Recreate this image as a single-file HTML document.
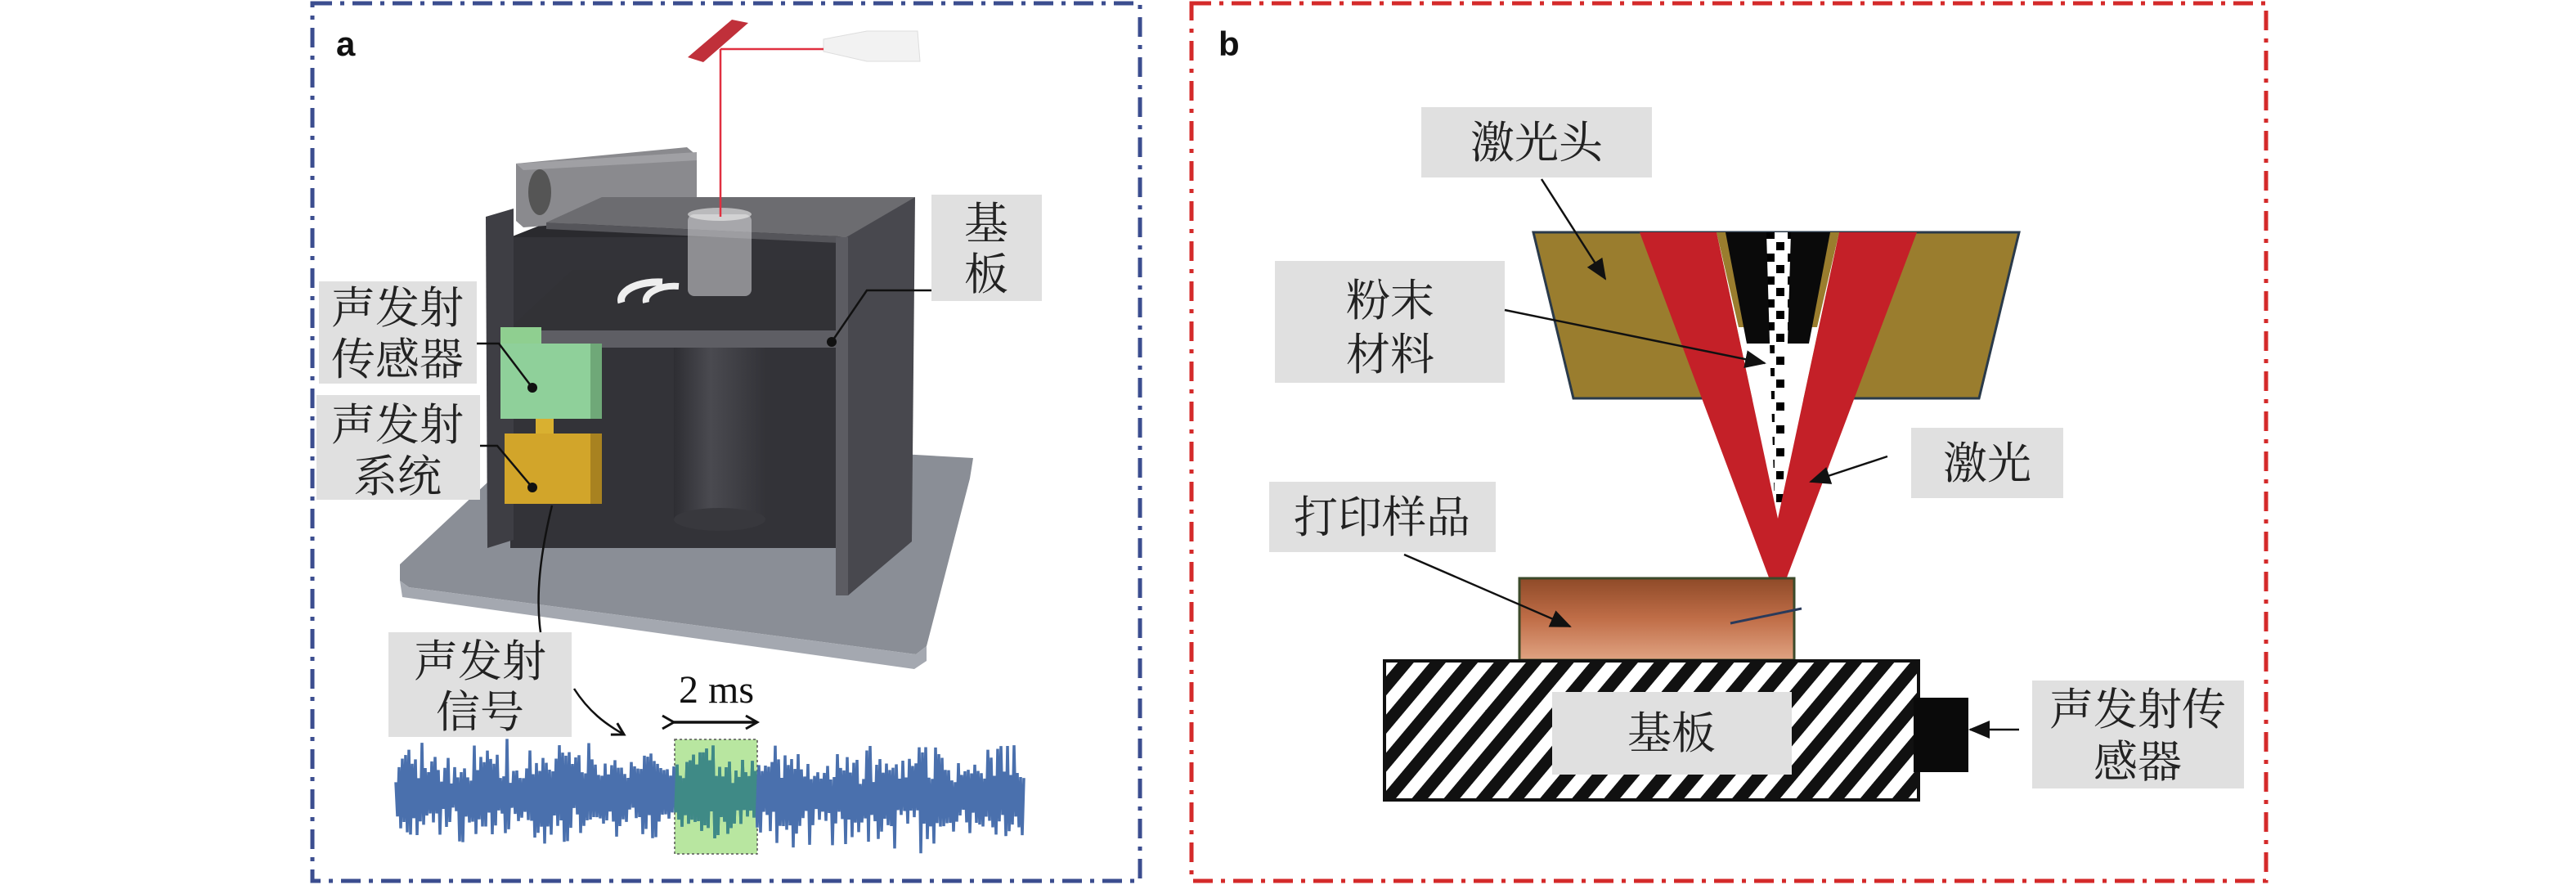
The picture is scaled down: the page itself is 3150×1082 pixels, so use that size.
<!DOCTYPE html>
<html><head><meta charset="utf-8"><style>
html,body{margin:0;padding:0;background:#fff;}
svg{display:block;}
.lb{font-family:"Liberation Serif","Noto Serif CJK SC",serif;font-size:54px;fill:#222;text-anchor:middle;}
</style></head><body>
<svg id="s" width="3150" height="1082" viewBox="0 0 3150 1082" xmlns="http://www.w3.org/2000/svg">
<defs>
<pattern id="hatch" width="30" height="30" patternUnits="userSpaceOnUse" patternTransform="rotate(40)">
<rect width="30" height="30" fill="#fff"/><rect width="15" height="30" fill="#111"/></pattern>
<linearGradient id="samp" x1="0" y1="0" x2="0" y2="1"><stop offset="0" stop-color="#8e4a28"/><stop offset="0.5" stop-color="#c06e48"/><stop offset="1" stop-color="#e0a382"/></linearGradient>
<linearGradient id="cyl" x1="0" y1="0" x2="1" y2="0"><stop offset="0" stop-color="#2e2e33"/><stop offset="0.4" stop-color="#4a4a50"/><stop offset="1" stop-color="#333338"/></linearGradient>
<pattern id="powder" width="26" height="28" patternUnits="userSpaceOnUse"><rect width="26" height="28" fill="#fff"/><rect x="2" y="2" width="10" height="10" fill="#000"/><rect x="14" y="16" width="10" height="10" fill="#000"/></pattern>
<marker id="ahb" markerWidth="26" markerHeight="26" refX="24" refY="13" orient="auto" markerUnits="userSpaceOnUse" viewBox="0 0 26 26"><path d="M0,2 L26,13 L0,24 z" fill="#111"/></marker>
<marker id="ao" markerWidth="20" markerHeight="20" refX="16" refY="10" orient="auto" markerUnits="userSpaceOnUse"><path d="M2,2 L16,10 L2,18" fill="none" stroke="#111" stroke-width="3"/></marker>
</defs>

<rect x="382" y="4" width="1012" height="1073" fill="none" stroke="#3b4d8f" stroke-width="5" stroke-dasharray="24 10 5 10"/>
<rect x="1457" y="4" width="1314" height="1073" fill="none" stroke="#d42a2a" stroke-width="5" stroke-dasharray="24 10 5 10"/>

<text x="411" y="68" font-family="Liberation Sans,sans-serif" font-weight="bold" font-size="42" fill="#111">a</text>
<text x="1490" y="68" font-family="Liberation Sans,sans-serif" font-weight="bold" font-size="42" fill="#111">b</text>

<!-- Panel a machine -->
<polygon points="489,690 660,530 1190,560 1186,585 1133,790 1120,800 500,718 489,710" fill="#8a8e96"/>
<polygon points="489,710 500,718 1120,800 1133,790 1133,808 1118,818 492,730" fill="#a4a8b0"/>
<rect x="624" y="290" width="400" height="380" fill="#333338"/>
<polygon points="624,290 700,260 1047,260 1024,290" fill="#2a2a2e"/>
<polygon points="610,414 700,330 1030,330 1024,414" fill="#323236"/>
<polygon points="610,404 1024,404 1024,425 610,425" fill="#5e5e64"/>
<rect x="824" y="425" width="112" height="210" fill="url(#cyl)"/>
<ellipse cx="880" cy="635" rx="56" ry="14" fill="#38383d"/>
<polygon points="594,265 628,255 628,660 596,670" fill="#3e3e44"/>
<polygon points="631,200 840,180 852,190 852,262 640,278 631,270" fill="#8a8a8e"/>
<polygon points="631,200 852,186 852,196 640,208" fill="#a0a0a4"/>
<ellipse cx="660" cy="235" rx="14" ry="28" fill="#555"/>
<polygon points="668,272 736,241 1119,241 1047,290" fill="#6c6c70"/>
<polygon points="668,272 1047,290 1047,298 668,280" fill="#55555a"/>
<polygon points="1035,290 1119,241 1115,662 1037,728" fill="#48484e"/>
<polygon points="1022,290 1037,290 1037,728 1022,728" fill="#5c5c62"/>
<rect x="841" y="262" width="78" height="100" rx="8" fill="#d8d8dc" opacity="0.55"/>
<ellipse cx="880" cy="262" rx="39" ry="8" fill="#eee" opacity="0.6"/>
<path d="M760,370 A45,22 0 0 1 810,345" stroke="#eee" stroke-width="9" fill="none"/>
<path d="M790,370 A35,18 0 0 1 830,350" stroke="#eee" stroke-width="8" fill="none"/>
<polygon points="841,70 895,24 915,28 860,76" fill="#c0303a"/>
<polygon points="1007,48 1060,38 1122,38 1125,75 1060,75 1007,63" fill="#f2f2f2" stroke="#ddd"/>
<line x1="881" y1="60" x2="1007" y2="60" stroke="#e03040" stroke-width="2.5"/>
<line x1="881" y1="60" x2="881" y2="265" stroke="#e03040" stroke-width="2.5"/>
<rect x="612" y="400" width="50" height="20" fill="#8fcf90"/>
<rect x="612" y="420" width="110" height="92" fill="#8fd09a"/>
<rect x="722" y="420" width="14" height="92" fill="#6fa878"/>
<rect x="655" y="512" width="22" height="20" fill="#d9b030"/>
<rect x="617" y="530" width="105" height="86" fill="#d2a52a"/>
<rect x="722" y="530" width="14" height="86" fill="#a88220"/>
<rect x="1139" y="238" width="135" height="130" fill="#e0e0e0"/>
<text class="lb" x="1206" y="292">基</text><text class="lb" x="1206" y="354">板</text>
<rect x="390" y="344" width="193" height="125" fill="#e0e0e0"/>
<text class="lb" x="486" y="395">声发射</text><text class="lb" x="486" y="458">传感器</text>
<rect x="387" y="483" width="200" height="128" fill="#e0e0e0"/>
<text class="lb" x="486" y="538">声发射</text><text class="lb" x="486" y="601">系统</text>
<rect x="475" y="773" width="224" height="128" fill="#e0e0e0"/>
<text class="lb" x="587" y="827">声发射</text><text class="lb" x="587" y="889">信号</text>
<g stroke="#111" stroke-width="2.5" fill="none">
<polyline points="1139,355 1060,355 1017,418"/>
<polyline points="583,420 610,420 651,474"/>
<polyline points="587,545 608,545 651,596"/>
<path d="M675,618 C660,680 655,730 661,773"/>
<path d="M702,842 C720,870 740,885 763,898" marker-end="url(#ao)"/>
</g>
<circle cx="1017" cy="418" r="6" fill="#111"/><circle cx="651" cy="474" r="6" fill="#111"/><circle cx="651" cy="596" r="6" fill="#111"/>
<rect x="825" y="904" width="101" height="140" fill="#b8e6a0" stroke="#555" stroke-dasharray="3 3" stroke-width="1.5"/>
<path id="wave" d="" fill="none" stroke="#4a70ad" stroke-width="3.5"/>
<path id="wave2" d="" fill="none" stroke="#3f8a86" stroke-width="3.5"/>
<text x="876" y="859" text-anchor="middle" font-family="Liberation Serif,serif" font-size="48" fill="#111">2 ms</text>
<line x1="824" y1="883" x2="926" y2="883" stroke="#111" stroke-width="3.5" marker-start="url(#ao)" marker-end="url(#ao)"/>

<!-- Panel b -->
<rect x="1738" y="131" width="282" height="86" fill="#e0e0e0"/>
<text class="lb" x="1879" y="193">激光头</text>
<polygon points="1875,284 2469,284 2420,487 1924,487" fill="#9a7d2e" stroke="#2a3a4a" stroke-width="3"/>
<polygon points="2099,284 2249,284 2174,634" fill="#fff"/>
<polygon points="2099,284 2249,284 2222,400 2126,400" fill="#9a7d2e"/>
<polygon points="2110,284 2238,284 2212,420 2136,420" fill="#0a0a0a"/>
<polygon points="2160,284 2190,284 2180,620 2170,620" fill="url(#powder)"/>
<polygon points="2005,284 2099,284 2174,634 2249,284 2344,284 2185,706 2163,706" fill="#c42028"/>
<rect x="1559" y="319" width="281" height="149" fill="#e0e0e0"/>
<text class="lb" x="1700" y="386">粉末</text><text class="lb" x="1700" y="452">材料</text>
<rect x="2337" y="523" width="186" height="86" fill="#e0e0e0"/>
<text class="lb" x="2430" y="585">激光</text>
<rect x="1552" y="589" width="277" height="86" fill="#e0e0e0"/>
<text class="lb" x="1690" y="651">打印样品</text>
<rect x="1858" y="707" width="336" height="100" fill="url(#samp)" stroke="#3b4a2a" stroke-width="3"/>
<line x1="2116" y1="762" x2="2203" y2="744" stroke="#2a3a5a" stroke-width="3"/>
<rect x="1693" y="808" width="653" height="170" fill="url(#hatch)" stroke="#111" stroke-width="4"/>
<rect x="1898" y="846" width="293" height="101" fill="#e0e0e0"/>
<text class="lb" x="2044" y="915">基板</text>
<rect x="2340" y="853" width="67" height="91" fill="#0a0a0a"/>
<rect x="2485" y="832" width="259" height="132" fill="#e0e0e0"/>
<text class="lb" x="2614" y="886">声发射传</text><text class="lb" x="2614" y="950">感器</text>
<g stroke="#111" stroke-width="2.5">
<line x1="1885" y1="219" x2="1963" y2="341" marker-end="url(#ahb)"/>
<line x1="1840" y1="379" x2="2158" y2="444" marker-end="url(#ahb)"/>
<line x1="2308" y1="558" x2="2214" y2="589" marker-end="url(#ahb)"/>
<line x1="1717" y1="678" x2="1920" y2="766" marker-end="url(#ahb)"/>
<line x1="2469" y1="892" x2="2409" y2="892" marker-end="url(#ahb)"/>
</g>
</svg>
<script>
(function(){
var seed=7;function r(){seed=(seed*16807)%2147483647;return seed/2147483647;}
var d1="",d2="",i=0;
for(var x=484;x<=1252;x+=2,i++){
 var env=0.35+0.4*Math.pow(Math.abs(Math.sin(x/29)),2)+0.25*Math.abs(Math.sin(x/9.3));
 var a=22+r()*55*env; if(r()<0.08)a+=20;
 var up=(i%2==0)?-1:1;
 var y=972+up*a*(0.6+0.4*r());
 var p=x.toFixed(1)+","+y.toFixed(1)+" ";
 d1+=(i==0?"M":"L")+p;
 if(x>=826&&x<=925){d2+=(d2==""?"M":"L")+p;}
}
document.getElementById("wave").setAttribute("d",d1);
document.getElementById("wave2").setAttribute("d",d2);
})();
</script>
</body></html>
